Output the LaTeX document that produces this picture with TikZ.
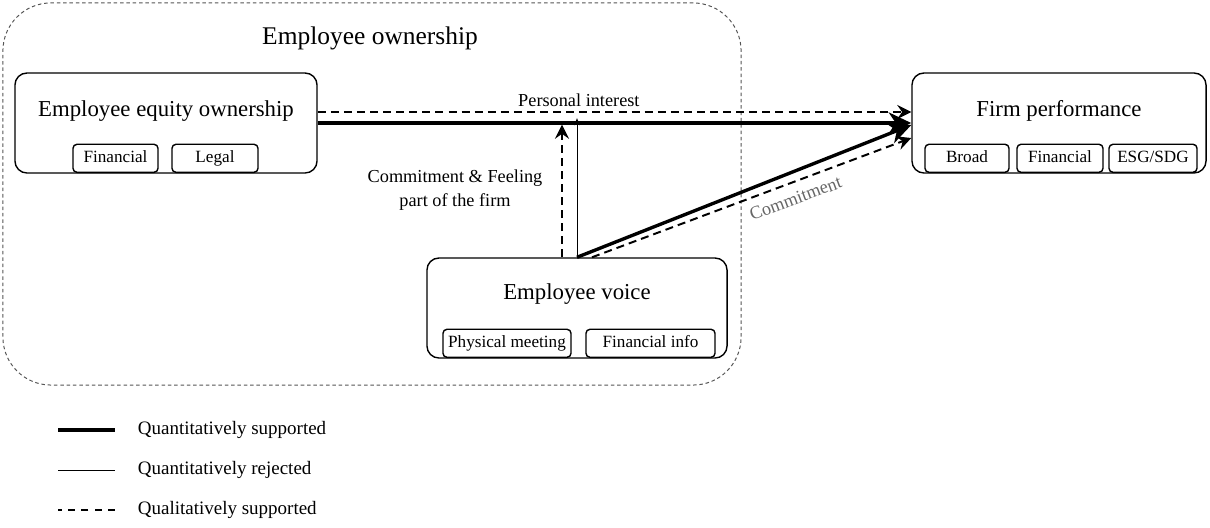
\documentclass[tikz,border=0pt]{standalone}
\usepackage{fontspec}
\setmainfont{Liberation Serif}
\usetikzlibrary{arrows.meta,positioning}

\definecolor{framegray}{HTML}{555555}
\definecolor{labelgray}{HTML}{666666}

\tikzset{
  box/.style={draw, rounded corners=0.3cm, line width=1pt, minimum height=2.5cm},
  subbox/.style={draw, rounded corners=0.1cm, line width=1pt, minimum height=0.7cm,
    anchor=south, inner sep=0pt, text height=8.5pt, text depth=2.5pt,
    font=\fontsize{12.2}{14}\selectfont},
  boxtitle/.style={font=\fontsize{16.2}{19}\selectfont},
  lbl/.style={font=\fontsize{13}{17}\selectfont},
  legend/.style={anchor=west, font=\fontsize{13.5}{16}\selectfont},
  supported/.style={line width=2.4pt},
  rejected/.style={line width=0.7pt},
  qualitative/.style={line width=1.4pt, dash pattern=on 5.7pt off 3.6pt},
  bighead/.style={-{Stealth[length=16pt,width=15pt,inset=5pt]}},
  dashhead/.style={-{Stealth[length=10pt,width=10pt,inset=3.5pt]}},
  smallhead/.style={-{Stealth[length=5pt,width=4pt,inset=1.5pt]}},
}

\begin{document}
\begin{tikzpicture}[x=0.025cm, y=-0.025cm]

  \useasboundingbox (0,0) rectangle (1210,527);

  % employee ownership frame
  \node[draw=framegray, line width=0.7pt, dash pattern=on 2.5pt off 2pt,
    rounded corners=1.2cm, minimum width=18.45cm, minimum height=9.55cm]
    (eown) at (372,194) {};
  \node[font=\fontsize{18.1}{22}\selectfont] (eownt) at (370,38) {Employee ownership};

  % the three blocks
  \node[box, minimum width=7.55cm] (eeo) at (166,123) {};
  \node[boxtitle] (eeot) at ([yshift=-0.975cm]eeo.north) {Employee equity ownership};
  \node[subbox, minimum width=2.125cm] (eeofin) at (115.5,173) {Financial};
  \node[subbox, minimum width=2.15cm] (eeolegal) at (215,173) {Legal};

  \node[box, minimum width=7.35cm] (fp) at (1059,123) {};
  \node[boxtitle] (fpt) at ([yshift=-0.975cm]fp.north) {Firm performance};
  \node[subbox, minimum width=2.1cm] (fpbroad) at (967,173) {Broad};
  \node[subbox, minimum width=2.15cm] (fpfin) at (1060,173) {Financial};
  \node[subbox, minimum width=2.2cm] (fpesg) at (1153,173) {ESG/SDG};

  \node[box, minimum width=7.5cm] (ev) at (577,308) {};
  \node[boxtitle] (evt) at ([yshift=-0.925cm]ev.north) {Employee voice};
  \node[subbox, minimum width=3.2cm] (evmeet) at (507,358) {Physical meeting};
  \node[subbox, minimum width=3.225cm] (evinfo) at (650.5,358) {Financial info};

  % arrow feet on top of the voice block
  \coordinate (cfoot) at ([xshift=-0.375cm]ev.north);
  \coordinate (dfoot) at ([xshift=0.375cm]ev.north);
  \coordinate (ptop) at (ev.north |- eeo.east);

  % ownership -> performance
  \draw[supported, bighead] (eeo.east) -- (fp.west);
  \draw[qualitative, dashhead] ([yshift=0.275cm]eeo.east) -- ([yshift=0.275cm]fp.west)
    node[lbl, pos=0.44, above] (pint) {Personal interest};

  % voice -> ownership link
  \draw[qualitative, dashhead, shorten >=1.2pt] (cfoot) -- (cfoot |- eeo.east);
  \draw[rejected, smallhead] (ev.north) -- ([yshift=0.12cm]ptop);
  \node[lbl, align=center] (cfeel) at (455,190) {Commitment \& Feeling\\part of the firm};

  % voice -> performance
  \draw[supported, bighead] (ev.north) -- ([yshift=-0.05cm]fp.west);
  \draw[qualitative, dashhead] (dfoot) -- ([yshift=-0.375cm]fp.west)
    node[lbl, labelgray, pos=0.62, sloped, below=3pt] (cmt) {Commitment};

  % legend
  \node[legend] (lsup) at (133,430) {Quantitatively supported};
  \node[legend] (lrej) at (133,470) {Quantitatively rejected};
  \node[legend] (lqual) at (133,510) {Qualitatively supported};
  \draw[supported] ([xshift=-0.45cm]lsup.west) -- ++(-1.425cm,0);
  \draw[rejected] ([xshift=-0.45cm]lrej.west) -- ++(-1.425cm,0);
  \draw[line width=1.4pt, dash pattern=on 5pt off 4.5pt] ([xshift=-0.45cm]lqual.west) -- ++(-1.425cm,0);

\end{tikzpicture}
\end{document}
